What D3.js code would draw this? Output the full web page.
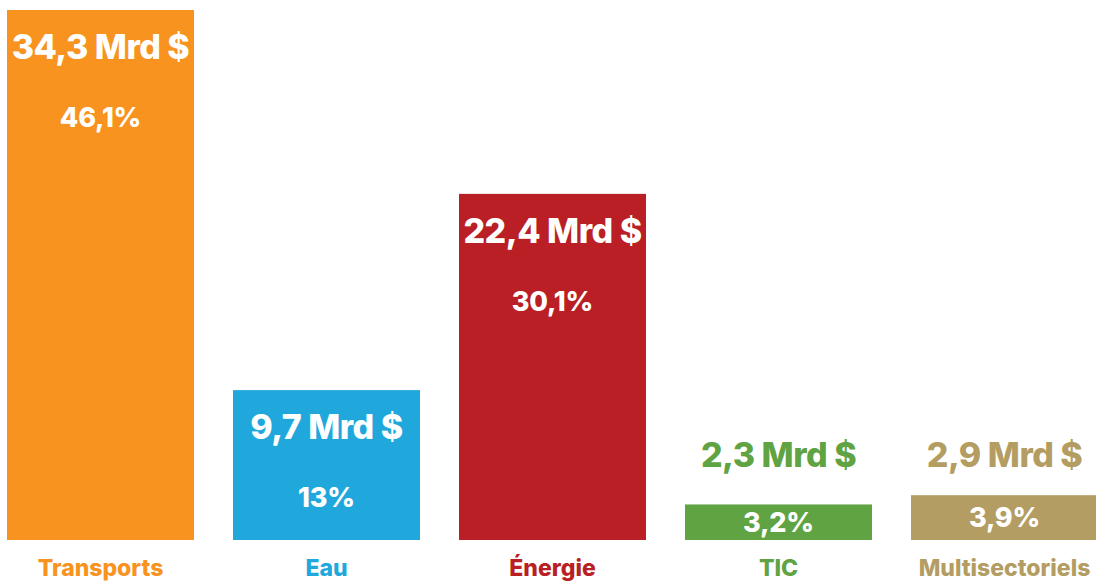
<!DOCTYPE html>
<html lang="fr">
<head>
<meta charset="utf-8">
<script src="https://cdn.jsdelivr.net/npm/d3@7"></script>
<style>
  html, body { margin: 0; padding: 0; background: #fff; }
  svg { display: block; }
  text { font-family: Inter, "Noto Sans", sans-serif; font-weight: 800; }
</style>
</head>
<body>
<svg id="chart" width="1096" height="581"></svg>
<script>
// Investment by sector (billions of dollars) and share of total
const categories = ["Transports", "Eau", "Énergie", "TIC", "Multisectoriels"];
const amounts = [34.3, 9.7, 22.4, 2.3, 2.9];
const amountLabels = ["34,3 Mrd $", "9,7 Mrd $", "22,4 Mrd $", "2,3 Mrd $", "2,9 Mrd $"];
const shareLabels = ["46,1%", "13%", "30,1%", "3,2%", "3,9%"];
const colors = ["#F7931E", "#20A8DD", "#B91F24", "#60A342", "#B39D62"];

const svg = d3.select("#chart");
const baseline = 540;

const x = d3.scaleBand()
  .domain(categories)
  .range([7, 1098])
  .paddingInner(0.1726)
  .paddingOuter(0);

const y = d3.scaleLinear()
  .domain([0, 34.3])
  .range([baseline, 10]);

const rows = categories.map((c, i) => ({
  cat: c, value: amounts[i], amount: amountLabels[i], share: shareLabels[i], color: colors[i]
}));

const g = svg.selectAll("g.bar").data(rows).join("g").attr("class", "bar");

g.append("rect")
  .attr("x", d => x(d.cat))
  .attr("y", d => y(d.value))
  .attr("width", x.bandwidth())
  .attr("height", d => baseline - y(d.value))
  .attr("fill", d => d.color);

const cx = d => x(d.cat) + x.bandwidth() / 2;
const tall = d => baseline - y(d.value) > 100;

// amount label: inside tall bars, on a shared line above the short ones
g.append("text")
  .attr("x", cx)
  .attr("y", d => tall(d) ? y(d.value) + 49 : baseline - 73)
  .attr("text-anchor", "middle")
  .attr("font-size", 34)
  .attr("letter-spacing", -0.5)
  .attr("fill", d => tall(d) ? "#fff" : d.color)
  .text(d => d.amount);

// share label: lower in tall bars, centred in short ones
g.append("text")
  .attr("x", cx)
  .attr("y", d => tall(d) ? y(d.value) + 117 : (y(d.value) + baseline) / 2 + 9.5)
  .attr("text-anchor", "middle")
  .attr("font-size", 27)
  .attr("letter-spacing", -0.2)
  .attr("fill", "#fff")
  .text(d => d.share);

// category names under the bars
g.append("text")
  .attr("x", cx)
  .attr("y", 576)
  .attr("text-anchor", "middle")
  .attr("font-size", 23)
  .attr("fill", d => d.color)
  .text(d => d.cat);
</script>
</body>
</html>
